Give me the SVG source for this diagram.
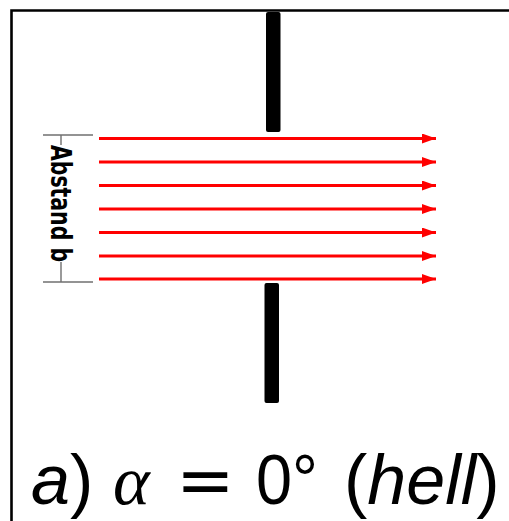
<svg xmlns="http://www.w3.org/2000/svg" width="509" height="521" viewBox="0 0 509 521">
<defs>
<marker id="ah" markerUnits="userSpaceOnUse" markerWidth="16" markerHeight="12" refX="14" refY="5" orient="auto">
<path d="M0,0 L14,5 L0,10 z" fill="#ff0000"/>
</marker>
<style>
.ray{stroke:#ff0000;stroke-width:3;fill:none;marker-end:url(#ah)}
.dim{stroke:#707070;stroke-width:1.4;fill:none}
.bar{fill:#000}
.lbl{font-family:"DejaVu Sans",sans-serif;font-weight:bold;font-size:29px;fill:#000}
.title{font-family:"Liberation Sans",Arial,sans-serif;font-size:70px;fill:#000}
.it{font-style:italic}
</style>
</defs>
<rect width="509" height="521" fill="#fff"/>
<path d="M11.5,521 V10.5 H509" stroke="#000" stroke-width="2.6" fill="none"/>
<g id="slit-top"><rect class="bar" x="266" y="12" width="14.5" height="120" rx="2"/></g>
<g id="slit-bottom"><rect class="bar" x="264.5" y="283" width="14.5" height="120" rx="2"/></g>
<g id="connectors">
<line class="ray" x1="99" y1="138.5" x2="436" y2="138.5"/>
<line class="ray" x1="99" y1="162" x2="436" y2="162"/>
<line class="ray" x1="99" y1="185.5" x2="436" y2="185.5"/>
<line class="ray" x1="99" y1="209" x2="436" y2="209"/>
<line class="ray" x1="99" y1="232.5" x2="436" y2="232.5"/>
<line class="ray" x1="99" y1="256" x2="436" y2="256"/>
<line class="ray" x1="99" y1="279" x2="436" y2="279"/>
</g>
<g id="abstand">
<path class="dim" d="M43,135 H93 M43,282 H93 M61,135 V145 M61,262 V282"/>
<text class="lbl" text-anchor="middle" textLength="117" lengthAdjust="spacingAndGlyphs" transform="translate(51,203.5) rotate(90)">Abstand b</text>
</g>
<g id="title">
<text class="title" y="504"><tspan x="31"><tspan class="it">a</tspan>) </tspan><tspan x="113" font-family="Liberation Serif,serif" font-style="italic">α </tspan><tspan x="176" font-family="DejaVu Sans,sans-serif">=</tspan><tspan font-size="8"> </tspan><tspan x="256" textLength="62" lengthAdjust="spacingAndGlyphs">0°</tspan><tspan font-size="8"> </tspan><tspan x="344">(<tspan class="it">hell</tspan>)</tspan></text>
</g>
</svg>
